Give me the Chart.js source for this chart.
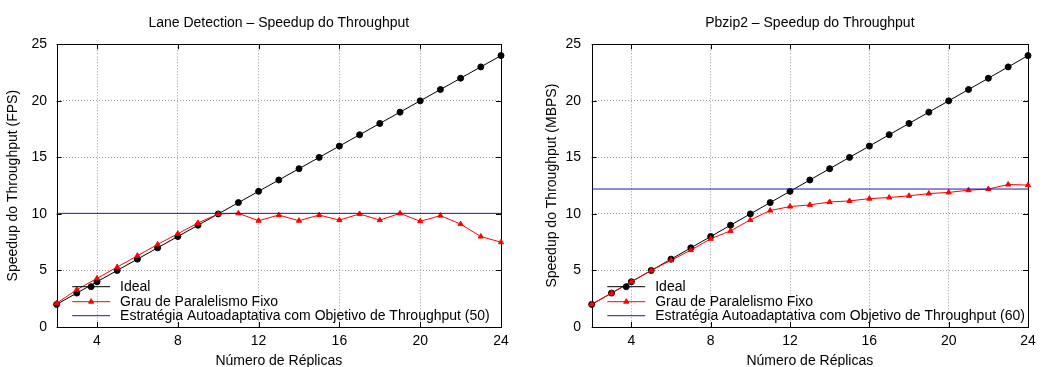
<!DOCTYPE html>
<html>
<head>
<meta charset="utf-8">
<script src="https://cdn.jsdelivr.net/npm/chart.js@4/dist/chart.umd.min.js"></script>
<style>
  body { margin: 0; background: #fff; }
  .wrap { position: absolute; top: 0; width: 527px; height: 367px; }
</style>
</head>
<body>
<div class="wrap" style="left:0"><canvas id="lane"></canvas></div>
<div class="wrap" style="left:527px"><canvas id="pbzip"></canvas></div>
<script>
// dados
const replicas = [2, 3, 4, 5, 6, 7, 8, 9, 10, 11, 12, 13, 14, 15, 16, 17, 18, 19, 20, 21, 22, 23, 24];
const ideal = [2, 3, 4, 5, 6, 7, 8, 9, 10, 11, 12, 13, 14, 15, 16, 17, 18, 19, 20, 21, 22, 23, 24];
const laneFixo = [2.1, 3.3, 4.3, 5.3, 6.3, 7.3, 8.25, 9.2, 10.0, 10.05, 9.4, 9.9, 9.4, 9.9, 9.45, 10.0, 9.45, 10.05, 9.35, 9.85, 9.1, 8.0, 7.5];
const laneAlvo = [10.05, 10.05];
const pbzipFixo = [2.0, 3.0, 4.0, 5.0, 5.9, 6.8, 7.8, 8.5, 9.47, 10.3, 10.65, 10.8, 11.05, 11.15, 11.35, 11.45, 11.6, 11.8, 11.9, 12.1, 12.2, 12.6, 12.55];
const pbzipAlvo = [12.2, 12.2];
const alvoX = [2, 24];
const xTicks = [4, 8, 12, 16, 20, 24];
const yTicks = [0, 5, 10, 15, 20, 25];

Chart.defaults.font.family = '"Liberation Sans", Arial, sans-serif';
Chart.defaults.font.size = 14;
Chart.defaults.color = '#000';

const toXY = (xs, ys) => xs.map((x, i) => ({ x: x, y: ys[i] }));

// moldura, marcas internas e legenda dentro da área, no estilo gnuplot
const gnuplotFrame = {
  id: 'gnuplotFrame',
  beforeDatasetsDraw(chart) {
    const { ctx, chartArea: a, scales } = chart;
    ctx.save();
    ctx.strokeStyle = '#000';
    ctx.lineWidth = 1;
    ctx.strokeRect(Math.round(a.left) + 0.5, Math.round(a.top) + 0.5,
      Math.round(a.right - a.left), Math.round(a.bottom - a.top));
    ctx.beginPath();
    yTicks.forEach(v => {
      const y = Math.round(scales.y.getPixelForValue(v)) + 0.5;
      ctx.moveTo(a.left, y); ctx.lineTo(a.left + 5, y);
      ctx.moveTo(a.right, y); ctx.lineTo(a.right - 5, y);
    });
    xTicks.forEach(v => {
      const x = Math.round(scales.x.getPixelForValue(v)) + 0.5;
      ctx.moveTo(x, a.bottom); ctx.lineTo(x, a.bottom - 5);
      ctx.moveTo(x, a.top); ctx.lineTo(x, a.top + 5);
    });
    ctx.stroke();
    ctx.restore();
  },
  afterDatasetsDraw(chart) {
    const { ctx, chartArea: a } = chart;
    const rows = [40.3, 25.3, 11.3];
    ctx.save();
    ctx.font = '14px "Liberation Sans", Arial, sans-serif';
    ctx.textBaseline = 'middle';
    chart.data.datasets.forEach((ds, i) => {
      const y = a.bottom - rows[i];
      const x0 = a.left + 15.6, x1 = a.left + 53.5;
      ctx.strokeStyle = ds.borderColor;
      ctx.lineWidth = 1;
      ctx.beginPath(); ctx.moveTo(x0, y); ctx.lineTo(x1, y); ctx.stroke();
      if (ds.pointRadius > 0) {
        ctx.fillStyle = ds.pointBackgroundColor;
        Chart.helpers.drawPoint(ctx, { pointStyle: ds.pointStyle, radius: ds.pointRadius, rotation: 0, borderWidth: 1 }, (x0 + x1) / 2, y);
      }
      ctx.fillStyle = '#000';
      ctx.fillText(ds.label, a.left + 63.5, y + 0.5);
    });
    ctx.restore();
  }
};

function makeChart(id, title, yTitle, fixo, alvo, alvoLabel, yWidth, yTitlePad, yTickPad) {
  return new Chart(document.getElementById(id), {
    type: 'line',
    data: {
      datasets: [
        {
          label: 'Ideal',
          data: toXY(replicas, ideal),
          borderColor: '#000',
          borderWidth: 1,
          pointStyle: 'circle',
          pointRadius: 3,
          pointBackgroundColor: '#000',
          pointBorderColor: '#000',
          order: 3,
          clip: false
        },
        {
          label: 'Grau de Paralelismo Fixo',
          data: toXY(replicas, fixo),
          borderColor: '#ff0000',
          borderWidth: 1,
          pointStyle: 'triangle',
          pointRadius: 3,
          pointBackgroundColor: '#ff0000',
          pointBorderColor: '#ff0000',
          order: 2,
          clip: false
        },
        {
          label: alvoLabel,
          data: toXY(alvoX, alvo),
          borderColor: '#1c1ca0',
          borderWidth: 1,
          pointRadius: 0,
          order: 1
        }
      ]
    },
    options: {
      responsive: true,
      maintainAspectRatio: false,
      animation: false,
      layout: { padding: { left: 0, right: 26, top: 0, bottom: 0 } },
      plugins: {
        legend: { display: false },
        tooltip: { enabled: false },
        title: {
          display: true,
          fullSize: false,
          text: title,
          color: '#000',
          font: { size: 14, weight: 'normal' },
          padding: { top: 14.5, bottom: 13 }
        }
      },
      scales: {
        x: {
          type: 'linear',
          min: 2,
          max: 24,
          afterBuildTicks: s => { s.ticks = xTicks.map(v => ({ value: v })); },
          afterFit: s => { s.height = 40; },
          grid: {
            color: c => (c.tick && c.tick.value === 24) ? 'rgba(0,0,0,0)' : '#9a9a9a',
            drawTicks: false
          },
          border: { display: false, dash: [1, 2] },
          ticks: { padding: 6, color: '#000', maxRotation: 0, autoSkip: false },
          title: { display: true, text: 'Número de Réplicas', color: '#000', font: { size: 14, lineHeight: 0.9 }, padding: { top: 0, bottom: 0 } }
        },
        y: {
          min: 0,
          max: 25,
          afterBuildTicks: s => { s.ticks = yTicks.map(v => ({ value: v })); },
          afterFit: s => { s.width = yWidth; },
          grid: {
            color: c => (c.tick && (c.tick.value === 0 || c.tick.value === 25)) ? 'rgba(0,0,0,0)' : '#9a9a9a',
            drawTicks: false
          },
          border: { display: false, dash: [1, 2] },
          ticks: { padding: yTickPad, color: '#000' },
          title: { display: true, text: yTitle, color: '#000', font: { size: 14 }, padding: { top: yTitlePad, bottom: 0 } }
        }
      }
    },
    plugins: [gnuplotFrame]
  });
}

makeChart('lane', 'Lane Detection – Speedup do Throughput', 'Speedup do Throughput (FPS)',
  laneFixo, laneAlvo, 'Estratégia Autoadaptativa com Objetivo de Throughput (50)', 56.6, 5, 9.6);
makeChart('pbzip', 'Pbzip2 – Speedup do Throughput', 'Speedup do Throughput (MBPS)',
  pbzipFixo, pbzipAlvo, 'Estratégia Autoadaptativa com Objetivo de Throughput (60)', 64.7, 17, 10.7);
</script>
</body>
</html>
